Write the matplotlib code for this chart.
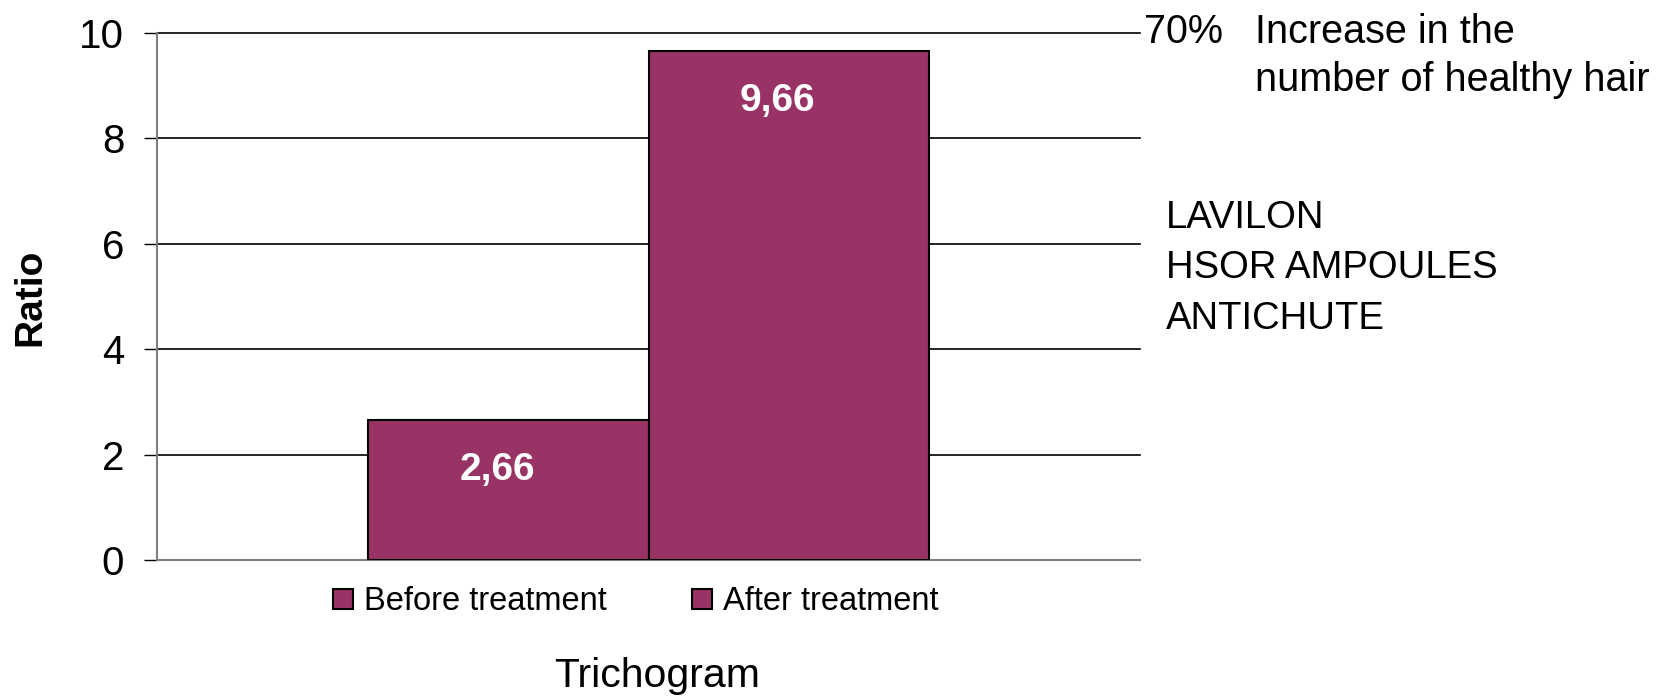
import matplotlib.pyplot as plt
import numpy as np

categories = ['Before treatment', 'After treatment']
values = [2.66, 9.66]
value_labels = ['2,66', '9,66']
yticks = [0, 2, 4, 6, 8, 10]

bar_color = '#993366'

plt.rcParams['font.family'] = ['Liberation Sans', 'DejaVu Sans']

fig = plt.figure(figsize=(16.66, 6.96), dpi=100)
ax = fig.add_axes([157 / 1666, 1 - 560 / 696, (1140 - 157) / 1666, (560 - 33) / 696])

xpos = np.array([-0.5, 0.5])
bars = ax.bar(xpos, values, width=1.0, color=bar_color, edgecolor='black',
              linewidth=1.5, zorder=3)

for x, v, lab in zip(xpos, values, value_labels):
    ax.annotate(lab, (x, v), xytext=(-8, -36), textcoords='offset points',
                ha='center', va='center', color='white', fontsize=28,
                fontweight='bold', zorder=4)

ax.set_xlim(-1.755, 1.755)
ax.set_ylim(0, 10)
ax.set_yticks(yticks)
ax.set_xticks([])
ax.tick_params(axis='y', direction='out', length=9.5, width=1, color='black',
               labelsize=29, pad=14)
ax.yaxis.grid(True, color='black', linewidth=1.2, zorder=0, clip_on=False)
ax.set_axisbelow(True)
for s in ['top', 'right']:
    ax.spines[s].set_visible(False)
ax.spines['left'].set_color('#808080')
ax.spines['bottom'].set_color('#808080')
ax.spines['left'].set_linewidth(1.5)
ax.spines['bottom'].set_linewidth(1.5)

fig.legend(handles=list(bars), labels=categories, loc='center',
           bbox_to_anchor=(636 / 1666, 1 - 602 / 696), ncol=2, frameon=False,
           fontsize=23.5, handlelength=0.6, handleheight=0.6,
           handletextpad=0.35, columnspacing=2.6)

fig.text(30 / 1666, 1 - 297 / 696, 'Ratio', rotation=90, fontsize=28,
         fontweight='bold', ha='center', va='center')
fig.text(657 / 1666, 1 - 676 / 696, 'Trichogram', fontsize=29.5,
         ha='center', va='center')

fig.text(1144 / 1666, 1 - 32 / 696, '70%', fontsize=28.5, ha='left', va='center')
fig.text(1255 / 1666, 1 - 32 / 696, 'Increase in the', fontsize=28.5,
         ha='left', va='center')
fig.text(1255 / 1666, 1 - 80 / 696, 'number of healthy hair', fontsize=28.5,
         ha='left', va='center')
fig.text(1166 / 1666, 1 - 218 / 696, 'LAVILON', fontsize=27.5, ha='left', va='center')
fig.text(1166 / 1666, 1 - 268 / 696, 'HSOR AMPOULES', fontsize=27.5, ha='left', va='center')
fig.text(1166 / 1666, 1 - 319 / 696, 'ANTICHUTE', fontsize=27.5, ha='left', va='center')

fig.savefig('out.png', dpi=100)
